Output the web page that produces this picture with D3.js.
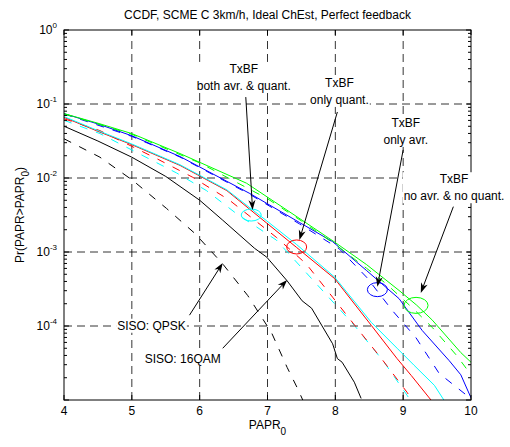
<!DOCTYPE html>
<html>
<head>
<meta charset="utf-8">
<script src="https://cdn.jsdelivr.net/npm/d3@7"></script>
<style>
  html, body { margin: 0; padding: 0; background: #fff; }
  svg { display: block; font-family: "Liberation Sans", Arial, sans-serif; }
</style>
</head>
<body>
<svg id="chart" width="510" height="447"></svg>
<script>
// CCDF curves: PAPR_0 (dB) and Pr(PAPR > PAPR_0)
const sisoQamX = [4.0, 4.5, 5.0, 5.5, 6.0, 6.34, 6.81, 6.99, 7.29, 7.51, 7.65, 7.96, 8.03, 8.10, 8.28, 8.38]
const sisoQamP = [0.0501, 0.0316, 0.0191, 0.0105, 0.00501, 0.00269, 0.00112, 8.5e-4, 4.07e-4, 2.19e-4, 1.74e-4, 5.75e-5, 3.63e-5, 3.24e-5, 1.74e-5, 1.05e-5]
const sisoQpskX = [4.0, 4.53, 5.01, 5.51, 5.93, 6.34, 6.71, 7.06, 7.29, 7.44, 7.52]
const sisoQpskP = [0.0339, 0.0191, 0.00933, 0.00389, 0.00178, 6.9e-4, 2.57e-4, 8.1e-5, 2.75e-5, 1.45e-5, 1.0e-5]

const bothX = [4.0, 4.5, 5.0, 5.71, 6.40, 6.99, 7.43, 7.99, 8.53, 8.91, 9.16, 9.46, 9.60]
const bothP = [0.0676, 0.0437, 0.0288, 0.0151, 0.00692, 0.00263, 0.00126, 4.57e-4, 1.12e-4, 5.01e-5, 2.95e-5, 1.58e-5, 1.0e-5]
const bothDashX = [4.0, 4.53, 5.66, 6.10, 6.54, 7.13, 7.72, 8.28, 8.72, 9.06, 9.10]
const bothDashP = [0.0603, 0.0398, 0.0117, 0.00676, 0.00331, 0.00145, 3.72e-4, 1.02e-4, 3.24e-5, 1.15e-5, 1.0e-5]

const quantX = [4.0, 4.5, 5.0, 5.71, 6.40, 6.99, 7.43, 7.99, 8.53, 8.91, 9.12, 9.41]
const quantP = [0.0661, 0.0427, 0.0282, 0.0148, 0.00676, 0.00245, 0.00115, 4.37e-4, 1.02e-4, 3.63e-5, 2.14e-5, 1.0e-5]
const quantDashX = [4.0, 4.53, 5.37, 5.90, 6.44, 7.13, 7.57, 7.96, 8.32, 8.68, 9.06, 9.13]
const quantDashP = [0.0631, 0.0437, 0.0182, 0.0102, 0.00501, 0.00158, 6.92e-4, 2.45e-4, 9.33e-5, 3.63e-5, 1.26e-5, 1.0e-5]

const avrX = [4.0, 4.5, 5.0, 5.71, 6.74, 7.47, 7.96, 8.46, 8.94, 9.28, 9.68, 9.85, 10.0]
const avrP = [0.0741, 0.0537, 0.0372, 0.0195, 0.00617, 0.00251, 0.00138, 5.62e-4, 2.34e-4, 8.71e-5, 3.39e-5, 2.19e-5, 1.07e-5]
const avrDashX = [4.0, 5.0, 5.71, 6.74, 7.47, 8.06, 8.46, 8.84, 9.19, 9.53, 9.94, 10.0]
const avrDashP = [0.0735, 0.0365, 0.0192, 0.00600, 0.00240, 0.00110, 4.57e-4, 1.62e-4, 6.92e-5, 2.29e-5, 1.15e-5, 1.0e-5]

const noneX = [4.0, 4.5, 5.0, 5.71, 6.69, 7.51, 7.98, 8.46, 8.94, 9.2, 9.43, 9.85, 10.0]
const noneP = [0.0741, 0.0550, 0.0398, 0.0214, 0.00851, 0.00269, 0.00138, 6.76e-4, 3.02e-4, 1.91e-4, 1.20e-4, 4.37e-5, 3.24e-5]
const noneDashX = [4.0, 5.0, 6.0, 7.0, 7.5, 8.0, 8.46, 8.75, 9.13, 9.43, 9.79, 10.0]
const noneDashP = [0.0735, 0.0390, 0.0160, 0.00525, 0.00263, 0.00126, 6.03e-4, 3.72e-4, 1.78e-4, 9.55e-5, 3.98e-5, 2.19e-5]

const xTicks = [4, 5, 6, 7, 8, 9, 10]
const yTickExp = [0, -1, -2, -3, -4]

// Annotations in data coordinates
const ellipses = [
  { x: 6.76, p: 3.16e-3, color: "#00ffff", rx: 10, ry: 6 },
  { x: 7.43, p: 1.17e-3, color: "#ff0000", rx: 10, ry: 7 },
  { x: 8.62, p: 3.1e-4, color: "#0000ff", rx: 10, ry: 7 },
  { x: 9.19, p: 1.9e-4, color: "#00ff00", rx: 12, ry: 8 },
]
const notes = [
  { lines: ["TxBF", "both avr. & quant."], x: 6.65, p: 0.263, from: [6.68, 0.124], to: [6.78, 3.7e-3] },
  { lines: ["TxBF", "only quant."], x: 8.06, p: 0.17, from: [8.03, 0.078], to: [7.47, 1.45e-3] },
  { lines: ["TxBF", "only avr."], x: 9.04, p: 0.049, from: [9.0, 0.024], to: [8.62, 3.4e-4] },
  { lines: ["TxBF", "no avr. & no quant."], x: 9.75, p: 8.5e-3, from: [9.74, 4.1e-3], to: [9.26, 2.8e-4] },
  { lines: ["SISO: QPSK"], x: 5.29, p: 8.9e-5, from: [5.85, 1.4e-4], to: [6.34, 7.1e-4] },
  { lines: ["SISO: 16QAM"], x: 5.75, p: 3.2e-5, from: [6.34, 5.0e-5], to: [7.29, 4.2e-4] },
]

const series = [
  { xs: sisoQpskX, ps: sisoQpskP, color: "#000", dash: true },
  { xs: sisoQamX, ps: sisoQamP, color: "#000", dash: false },
  { xs: bothDashX, ps: bothDashP, color: "#00ffff", dash: true },
  { xs: quantDashX, ps: quantDashP, color: "#ff0000", dash: true },
  { xs: quantX, ps: quantP, color: "#ff0000", dash: false },
  { xs: bothX, ps: bothP, color: "#00ffff", dash: false },
  { xs: avrX, ps: avrP, color: "#0000ff", dash: false },
  { xs: avrDashX, ps: avrDashP, color: "#0000ff", dash: true },
  { xs: noneX, ps: noneP, color: "#00ff00", dash: false },
  { xs: noneDashX, ps: noneDashP, color: "#00ff00", dash: true },
]

const MARGIN = { top: 30, right: 39, bottom: 47, left: 64 }
const W = 510, H = 447
const x0 = MARGIN.left, x1 = W - MARGIN.right
const y0 = H - MARGIN.bottom, y1 = MARGIN.top

const svg = d3.select("#chart")
const x = d3.scaleLinear().domain([4, 10]).range([x0, x1])
const y = d3.scaleLog().domain([1e-5, 1]).range([y0, y1])

svg.append("clipPath").attr("id", "plot-clip")
  .append("rect").attr("x", x0).attr("y", y1).attr("width", x1 - x0).attr("height", y0 - y1)

// Dashed grid
const grid = svg.append("g").attr("stroke", "#000").attr("stroke-width", 0.8).attr("stroke-dasharray", "8,5")
xTicks.slice(1, -1).forEach((t) => {
  grid.append("line").attr("x1", x(t)).attr("x2", x(t)).attr("y1", y0).attr("y2", y1)
})
yTickExp.slice(1).forEach((e) => {
  grid.append("line").attr("x1", x0).attr("x2", x1).attr("y1", y(10 ** e)).attr("y2", y(10 ** e))
})

// Curves
const line = d3.line().x((d) => x(d[0])).y((d) => y(d[1]))
const curves = svg.append("g").attr("clip-path", "url(#plot-clip)").attr("fill", "none")
series.forEach((s) => {
  curves.append("path")
    .attr("d", line(s.xs.map((v, i) => [v, s.ps[i]])))
    .attr("stroke", s.color)
    .attr("stroke-width", 1)
    .attr("stroke-dasharray", s.dash ? "8,9" : null)
})

// Axes box, ticks (inward, like MATLAB)
const axes = svg.append("g").attr("stroke", "#000").attr("stroke-width", 1)
axes.append("rect").attr("x", x0).attr("y", y1).attr("width", x1 - x0).attr("height", y0 - y1).attr("fill", "none")
xTicks.forEach((t) => {
  axes.append("line").attr("x1", x(t)).attr("x2", x(t)).attr("y1", y0).attr("y2", y0 - 5)
  axes.append("line").attr("x1", x(t)).attr("x2", x(t)).attr("y1", y1).attr("y2", y1 + 5)
})
for (let e = -5; e <= 0; e++) {
  const v = 10 ** e
  axes.append("line").attr("x1", x0).attr("x2", x0 + 5).attr("y1", y(v)).attr("y2", y(v))
  axes.append("line").attr("x1", x1).attr("x2", x1 - 5).attr("y1", y(v)).attr("y2", y(v))
  if (e === 0) continue
  for (let k = 2; k <= 9; k++) {
    const m = k * v
    axes.append("line").attr("x1", x0).attr("x2", x0 + 3).attr("y1", y(m)).attr("y2", y(m))
    axes.append("line").attr("x1", x1).attr("x2", x1 - 3).attr("y1", y(m)).attr("y2", y(m))
  }
}

// Tick labels
const labels = svg.append("g").attr("fill", "#000").attr("font-size", 12)
xTicks.forEach((t) => {
  labels.append("text").attr("x", x(t)).attr("y", y0 + 15).attr("text-anchor", "middle").text(t)
})
yTickExp.forEach((e) => {
  const tx = labels.append("text").attr("x", x0 - 7).attr("y", y(10 ** e) + 4).attr("text-anchor", "end")
  tx.append("tspan").text("10")
  tx.append("tspan").attr("dy", -6).attr("font-size", 8).text(e)
})

// Title and axis labels
svg.append("text").attr("x", (x0 + x1) / 2).attr("y", 19).attr("text-anchor", "middle")
  .attr("font-size", 12).text("CCDF, SCME C 3km/h, Ideal ChEst, Perfect feedback")

const xl = svg.append("text").attr("x", (x0 + x1) / 2).attr("y", y0 + 29).attr("text-anchor", "middle").attr("font-size", 12)
xl.append("tspan").text("PAPR")
xl.append("tspan").attr("dy", 6).attr("font-size", 10).text("0")

const yl = svg.append("text").attr("transform", `translate(24,${(y0 + y1) / 2}) rotate(-90)`)
  .attr("text-anchor", "middle").attr("font-size", 12)
yl.append("tspan").text("Pr(PAPR>PAPR")
yl.append("tspan").attr("dy", 5).attr("font-size", 10).text("0")
yl.append("tspan").attr("dy", -5).text(")")

// Ellipses marking the curves
const marks = svg.append("g").attr("fill", "none").attr("stroke-width", 1)
ellipses.forEach((e) => {
  marks.append("ellipse").attr("cx", x(e.x)).attr("cy", y(e.p)).attr("rx", e.rx).attr("ry", e.ry).attr("stroke", e.color)
})

// Text arrows
const ann = svg.append("g")
notes.forEach((n) => {
  const g = ann.append("g")
  const t = g.append("text").attr("x", x(n.x)).attr("y", y(n.p)).attr("text-anchor", "middle").attr("font-size", 12)
  n.lines.forEach((s, i) => {
    t.append("tspan").attr("x", x(n.x)).attr("dy", i === 0 ? 0 : 17).text(s)
  })
  const bb = t.node().getBBox()
  g.insert("rect", "text").attr("x", bb.x - 1).attr("y", bb.y).attr("width", bb.width + 2).attr("height", bb.height).attr("fill", "#fff")

  const fx = x(n.from[0]), fy = y(n.from[1]), tx = x(n.to[0]), ty = y(n.to[1])
  const ang = Math.atan2(ty - fy, tx - fx)
  const len = 10, half = 3.5
  const bx = tx - len * Math.cos(ang), by = ty - len * Math.sin(ang)
  const nx = -Math.sin(ang), ny = Math.cos(ang)
  const notchX = tx - 0.7 * len * Math.cos(ang), notchY = ty - 0.7 * len * Math.sin(ang)
  ann.append("line").attr("x1", fx).attr("y1", fy).attr("x2", notchX).attr("y2", notchY).attr("stroke", "#000").attr("stroke-width", 1)
  ann.append("path")
    .attr("d", `M${tx},${ty}L${bx + half * nx},${by + half * ny}L${notchX},${notchY}L${bx - half * nx},${by - half * ny}Z`)
    .attr("fill", "#000")
})
</script>
</body>
</html>
